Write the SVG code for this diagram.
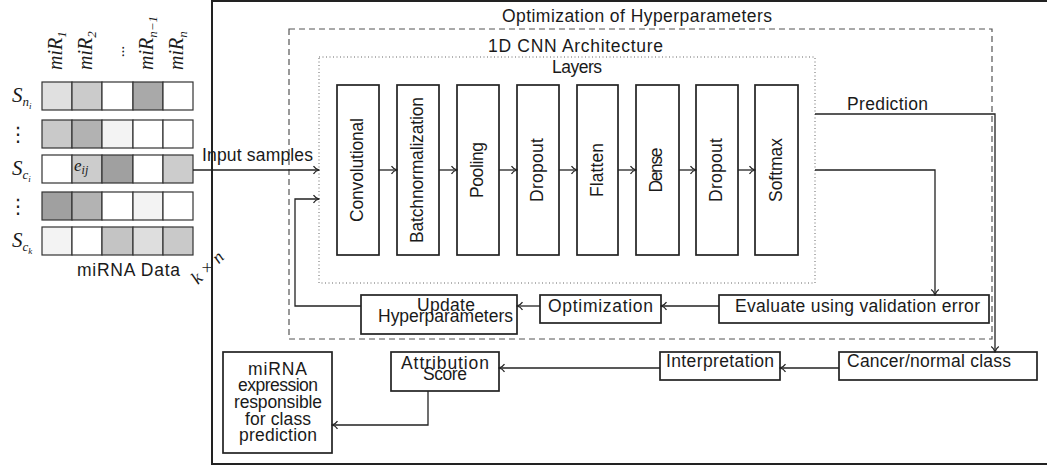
<svg xmlns="http://www.w3.org/2000/svg" width="1047" height="466" viewBox="0 0 1047 466">
  <defs>
    <style>
      .t { font-family: "Liberation Sans", Arial, sans-serif; font-size: 17.5px; fill: #1a1a1a; }
      .m { font-family: "Liberation Serif", "Times New Roman", serif; font-style: italic; fill: #1a1a1a; }
      .box { fill: #ffffff; stroke: #222222; stroke-width: 1.7; }
      .cell { stroke: #333333; stroke-width: 1.2; }
      .conn { fill: none; stroke: #222222; stroke-width: 1.3; }
    </style>
    <marker id="arr" viewBox="-7 -5 8 10" markerWidth="8" markerHeight="10" refX="0" refY="0" orient="auto" markerUnits="userSpaceOnUse">
      <path d="M-5.5,-3.8 C-4,-1.5 -1.5,-0.4 0,0 C-1.5,0.4 -4,1.5 -5.5,3.8" fill="none" stroke="#222222" stroke-width="1.2"/>
    </marker>
  </defs>

  <rect width="1047" height="466" fill="#ffffff"/>

  <!-- miRNA data matrix -->
  <g id="matrix">
    <g id="row1">
      <rect class="cell" x="42" y="82" width="30" height="28" fill="#e0e0e0"/>
      <rect class="cell" x="72" y="82" width="30" height="28" fill="#cbcbcb"/>
      <rect class="cell" x="102" y="82" width="31" height="28" fill="#ffffff"/>
      <rect class="cell" x="133" y="82" width="30" height="28" fill="#a9a9a9"/>
      <rect class="cell" x="163" y="82" width="30" height="28" fill="#ffffff"/>
    </g>
    <g id="row2">
      <rect class="cell" x="42" y="120" width="30" height="28" fill="#c9c9c9"/>
      <rect class="cell" x="72" y="120" width="30" height="28" fill="#b2b2b2"/>
      <rect class="cell" x="102" y="120" width="31" height="28" fill="#f3f3f3"/>
      <rect class="cell" x="133" y="120" width="30" height="28" fill="#ffffff"/>
      <rect class="cell" x="163" y="120" width="30" height="28" fill="#ffffff"/>
    </g>
    <g id="row3">
      <rect class="cell" x="42" y="155" width="30" height="28" fill="#ffffff"/>
      <rect class="cell" x="72" y="155" width="30" height="28" fill="#cccccc"/>
      <rect class="cell" x="102" y="155" width="31" height="28" fill="#a0a0a0"/>
      <rect class="cell" x="133" y="155" width="30" height="28" fill="#ffffff"/>
      <rect class="cell" x="163" y="155" width="30" height="28" fill="#cccccc"/>
    </g>
    <g id="row4">
      <rect class="cell" x="42" y="192" width="30" height="28" fill="#a0a0a0"/>
      <rect class="cell" x="72" y="192" width="30" height="28" fill="#b3b3b3"/>
      <rect class="cell" x="102" y="192" width="31" height="28" fill="#ffffff"/>
      <rect class="cell" x="133" y="192" width="30" height="28" fill="#f3f3f3"/>
      <rect class="cell" x="163" y="192" width="30" height="28" fill="#ffffff"/>
    </g>
    <g id="row5">
      <rect class="cell" x="42" y="227" width="30" height="28" fill="#f3f3f3"/>
      <rect class="cell" x="72" y="227" width="30" height="28" fill="#ffffff"/>
      <rect class="cell" x="102" y="227" width="31" height="28" fill="#c4c4c4"/>
      <rect class="cell" x="133" y="227" width="30" height="28" fill="#dedede"/>
      <rect class="cell" x="163" y="227" width="30" height="28" fill="#c9c9c9"/>
    </g>

    <!-- element label -->
    <text class="m" x="74" y="171" font-size="17">e<tspan font-size="12" dy="3">ij</tspan></text>

    <!-- column labels -->
    <text class="m" font-size="20" transform="translate(62,70) rotate(-90)">miR<tspan font-size="13" dy="4">1</tspan></text>
    <text class="m" font-size="20" transform="translate(92,70) rotate(-90)">miR<tspan font-size="13" dy="4">2</tspan></text>
    <text class="m" font-size="15" transform="translate(124,51) rotate(-90)" text-anchor="middle" font-style="normal">...</text>
    <text class="m" font-size="20" transform="translate(153,70) rotate(-90)">miR<tspan font-size="13" dy="4">n−1</tspan></text>
    <text class="m" font-size="20" transform="translate(183,70) rotate(-90)">miR<tspan font-size="13" dy="4">n</tspan></text>

    <!-- row labels -->
    <text class="m" x="12" y="102" font-size="21">S<tspan font-size="13" dy="4">n</tspan><tspan font-size="9" dy="3">i</tspan></text>
    <text x="18" y="141" font-family="DejaVu Sans, sans-serif" font-size="20" text-anchor="middle" fill="#1a1a1a">⋮</text>
    <text class="m" x="12" y="175" font-size="21">S<tspan font-size="13" dy="4">c</tspan><tspan font-size="9" dy="3">i</tspan></text>
    <text x="18" y="213" font-family="DejaVu Sans, sans-serif" font-size="20" text-anchor="middle" fill="#1a1a1a">⋮</text>
    <text class="m" x="12" y="247" font-size="21">S<tspan font-size="13" dy="4">c</tspan><tspan font-size="9" dy="3">k</tspan></text>

    <text class="t" x="77" y="276" textLength="103">miRNA Data</text>
    <text class="m" font-size="18" transform="translate(208,268) rotate(-45)" text-anchor="middle" y="5">k × n</text>
  </g>

  <!-- frames -->
  <g id="frame-optimization">
    <rect x="212" y="1" width="850" height="463" fill="none" stroke="#222222" stroke-width="2"/>
    <text class="t" x="502" y="21.5" textLength="270">Optimization of Hyperparameters</text>
  </g>
  <g id="frame-cnn">
    <rect x="289" y="29" width="703" height="310" fill="none" stroke="#555555" stroke-width="1.2" stroke-dasharray="6 4"/>
    <text class="t" x="488" y="52" textLength="175">1D CNN Architecture</text>
  </g>
  <g id="frame-layers">
    <rect x="319" y="57" width="496" height="226" fill="none" stroke="#666666" stroke-width="1" stroke-dasharray="1 2.5"/>
    <text class="t" x="552" y="73" textLength="50">Layers</text>
  </g>

  <!-- layer nodes -->
  <g id="layer-conv">
    <rect class="box" x="337" y="85" width="42" height="170"/>
    <text class="t" transform="translate(363,170) rotate(-90)" text-anchor="middle" textLength="104">Convolutional</text>
  </g>
  <g id="layer-bn">
    <rect class="box" x="397" y="85" width="42" height="170"/>
    <text class="t" transform="translate(423,170) rotate(-90)" text-anchor="middle" textLength="146">Batchnormalization</text>
  </g>
  <g id="layer-pool">
    <rect class="box" x="457" y="85" width="42" height="170"/>
    <text class="t" transform="translate(483,170) rotate(-90)" text-anchor="middle" textLength="56">Pooling</text>
  </g>
  <g id="layer-drop1">
    <rect class="box" x="517" y="85" width="42" height="170"/>
    <text class="t" transform="translate(543,170) rotate(-90)" text-anchor="middle" textLength="64">Dropout</text>
  </g>
  <g id="layer-flatten">
    <rect class="box" x="577" y="85" width="41" height="170"/>
    <text class="t" transform="translate(603,170) rotate(-90)" text-anchor="middle" textLength="54">Flatten</text>
  </g>
  <g id="layer-dense">
    <rect class="box" x="636" y="85" width="43" height="170"/>
    <text class="t" transform="translate(662,170) rotate(-90)" text-anchor="middle" textLength="45">Dense</text>
  </g>
  <g id="layer-drop2">
    <rect class="box" x="696" y="85" width="42" height="170"/>
    <text class="t" transform="translate(722,170) rotate(-90)" text-anchor="middle" textLength="64">Dropout</text>
  </g>
  <g id="layer-softmax">
    <rect class="box" x="755" y="85" width="43" height="170"/>
    <text class="t" transform="translate(782,170) rotate(-90)" text-anchor="middle" textLength="64">Softmax</text>
  </g>

  <!-- process nodes -->
  <g id="evaluate">
    <rect class="box" x="719" y="295" width="270" height="28"/>
    <text class="t" x="735" y="312" textLength="245">Evaluate using validation error</text>
  </g>
  <g id="optimization">
    <rect class="box" x="540" y="295" width="121" height="28"/>
    <text class="t" x="548" y="312" textLength="105">Optimization</text>
  </g>
  <g id="update">
    <rect class="box" x="361" y="295" width="156" height="39"/>
    <text class="t" x="417" y="311" textLength="58">Update</text>
    <text class="t" x="378" y="322" textLength="135">Hyperparameters</text>
  </g>
  <g id="cancer-class">
    <rect class="box" x="839" y="352" width="198" height="28"/>
    <text class="t" x="847" y="367" textLength="164">Cancer/normal class</text>
  </g>
  <g id="interpretation">
    <rect class="box" x="660" y="352" width="120" height="28"/>
    <text class="t" x="666" y="367" textLength="108">Interpretation</text>
  </g>
  <g id="attribution">
    <rect class="box" x="391" y="352" width="108" height="39"/>
    <text class="t" x="401" y="369" textLength="88">Attribution</text>
    <text class="t" x="423" y="380" textLength="44">Score</text>
  </g>
  <g id="mirna-expression">
    <rect class="box" x="223" y="352" width="109" height="101"/>
    <text class="t" x="248" y="375" textLength="59">miRNA</text>
    <text class="t" x="238" y="391" textLength="80">expression</text>
    <text class="t" x="234" y="408" textLength="88">responsible</text>
    <text class="t" x="245" y="425" textLength="66">for class</text>
    <text class="t" x="239" y="441" textLength="78">prediction</text>
  </g>

  <!-- connectors -->
  <g id="connectors">
    <path class="conn" d="M193,170 H319" stroke-width="1" marker-end="url(#arr)"/>
    <text class="t" x="202" y="161" textLength="111">Input samples</text>

    <path class="conn" d="M379,170 H397" marker-end="url(#arr)"/>
    <path class="conn" d="M439,170 H457" marker-end="url(#arr)"/>
    <path class="conn" d="M499,170 H517" marker-end="url(#arr)"/>
    <path class="conn" d="M559,170 H577" marker-end="url(#arr)"/>
    <path class="conn" d="M618,170 H636" marker-end="url(#arr)"/>
    <path class="conn" d="M679,170 H696" marker-end="url(#arr)"/>
    <path class="conn" d="M738,170 H755" marker-end="url(#arr)"/>

    <path class="conn" d="M815,114 H995 V352" stroke-width="1.9" marker-end="url(#arr)"/>
    <text class="t" x="847" y="110" textLength="81">Prediction</text>

    <path class="conn" d="M815,170 H935 V295" marker-end="url(#arr)"/>
    <path class="conn" d="M719,306 H661" marker-end="url(#arr)"/>
    <path class="conn" d="M540,306 H517" marker-end="url(#arr)"/>
    <path class="conn" d="M361,306 H295 V199 H319" marker-end="url(#arr)"/>

    <path class="conn" d="M839,368 H780" marker-end="url(#arr)"/>
    <path class="conn" d="M660,368 H499" marker-end="url(#arr)"/>
    <path class="conn" d="M428,391 V425 H332" marker-end="url(#arr)"/>
  </g>
</svg>
